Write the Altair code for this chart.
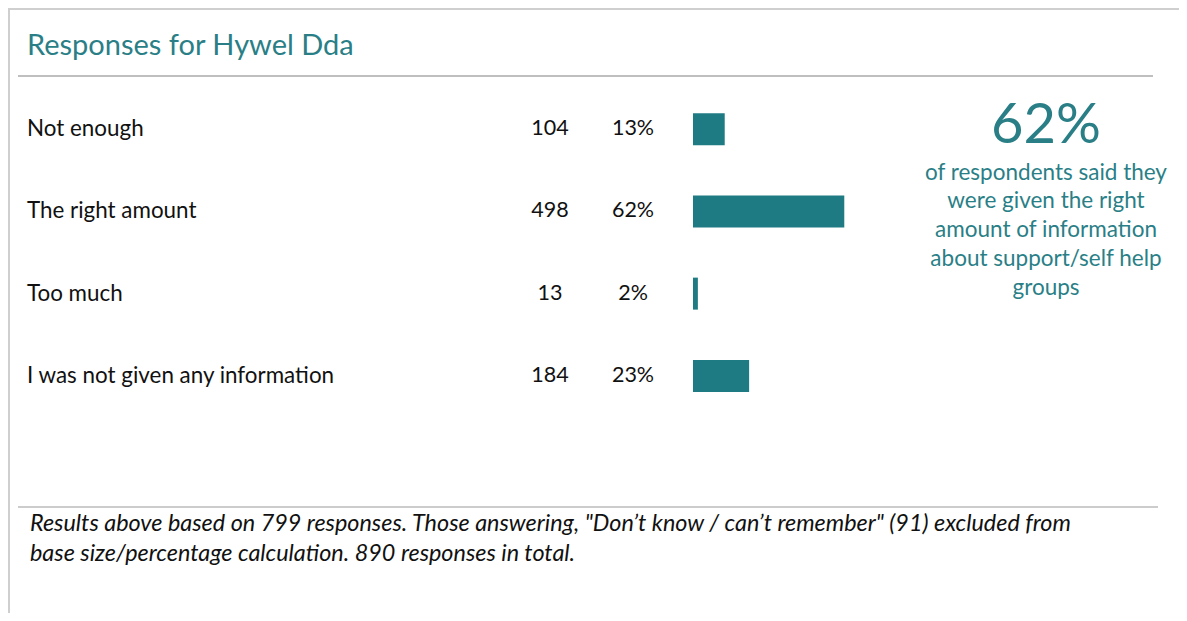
import altair as alt
import pandas as pd

# ---- data ----
categories = ["Not enough", "The right amount", "Too much", "I was not given any information"]
counts = [104, 498, 13, 184]
percents = [13, 62, 2, 23]

title_text = ["Responses for Hywel Dda"]
highlight_value = ["62%"]
highlight_lines = [
    "of respondents said they",
    "were given the right",
    "amount of information",
    "about support/self help",
    "groups",
]
footnote_lines = [
    "Results above based on 799 responses. Those answering, \"Don\u2019t know / can\u2019t remember\" (91) excluded from",
    "base size/percentage calculation. 890 responses in total.",
]

TEAL = "#2a7f87"
BAR = "#1f7b83"
FONT = "Lato"

df = pd.DataFrame({
    "label": categories,
    "count": counts,
    "pct": percents,
    "pct_text": [f"{p}%" for p in percents],
})

yenc = alt.Y("label:N", sort=categories, axis=None,
             scale=alt.Scale(domain=categories, range=[80, 409], paddingInner=0, paddingOuter=0))

base = alt.Chart(df)

bars = base.mark_bar(color=BAR, size=32).encode(
    y=yenc,
    x=alt.X("pct:Q", axis=None, scale=alt.Scale(domain=[0, 100], range=[685, 929])),
)

labels = base.mark_text(align="left", baseline="middle", font=FONT, fontSize=22.4, color="#111111").encode(
    y=yenc, x=alt.value(19), text="label:N")
cnt = base.mark_text(align="center", baseline="middle", font=FONT, fontSize=21.5, color="#111111").encode(
    y=yenc, x=alt.value(542), text="count:Q")
pct = base.mark_text(align="center", baseline="middle", font=FONT, fontSize=21.5, color="#111111").encode(
    y=yenc, x=alt.value(625), text="pct_text:N")

title = alt.Chart(pd.DataFrame({"t": title_text})).mark_text(
    align="left", baseline="alphabetic", font=FONT, fontSize=29, color=TEAL
).encode(x=alt.value(19), y=alt.value(47), text="t:N")

big = alt.Chart(pd.DataFrame({"t": highlight_value})).mark_text(
    align="center", baseline="middle", font=FONT, fontSize=56, color=TEAL
).encode(x=alt.value(1038), y=alt.value(118), text="t:N")

hl = alt.Chart(pd.DataFrame({"t": ["\n".join(highlight_lines)]})).mark_text(
    align="center", baseline="top", font=FONT, fontSize=22.5, color=TEAL,
    lineBreak="\n", lineHeight=28.8
).encode(x=alt.value(1038), y=alt.value(153.5), text="t:N")

foot = alt.Chart(pd.DataFrame({"t": ["\n".join(footnote_lines)]})).mark_text(
    align="left", baseline="top", font=FONT, fontSize=23.4, fontStyle="italic", color="#111111",
    lineBreak="\n", lineHeight=29.5
).encode(x=alt.value(22), y=alt.value(505), text="t:N")

dummy = pd.DataFrame({"a": [0]})
top_border = alt.Chart(dummy).mark_rule(color="#cfcfcf", strokeWidth=2).encode(
    x=alt.value(0), x2=alt.value(1171), y=alt.value(1))
left_border = alt.Chart(dummy).mark_rule(color="#cfcfcf", strokeWidth=2).encode(
    x=alt.value(1), y=alt.value(0), y2=alt.value(605))
title_rule = alt.Chart(dummy).mark_rule(color="#aaaaaa", strokeWidth=1.5).encode(
    x=alt.value(10), x2=alt.value(1145), y=alt.value(68))
foot_rule = alt.Chart(dummy).mark_rule(color="#bbbbbb", strokeWidth=1.5).encode(
    x=alt.value(10), x2=alt.value(1150), y=alt.value(499))

chart = alt.layer(
    top_border, left_border, title_rule, foot_rule,
    bars, labels, cnt, pct, title, big, hl, foot
).properties(
    width=1171, height=605,
    autosize=alt.AutoSizeParams(type="none"),
    padding=0,
).configure_view(stroke=None)

chart.save("out.html", embed_options={"renderer": "svg", "actions": False})
